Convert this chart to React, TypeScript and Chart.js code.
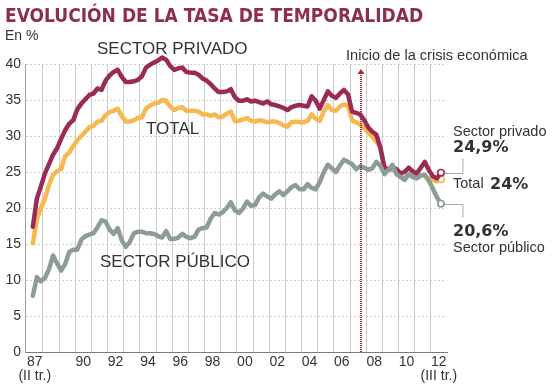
import React, { useEffect, useRef } from "react";
import { Chart, registerables } from "chart.js";

Chart.register(...registerables);

// ---- Data (quarterly, from 1987 Q2 to 2012 Q3) ----
const startYear = 1987;
const startQuarter = 2;

const privado = [
  17.4, 21.3, 23.0, 24.8, 26.1, 27.4, 28.3, 29.6, 30.8, 31.7,
  32.2, 33.7, 34.5, 35.1, 35.7, 35.9, 36.6, 36.4, 37.7, 38.4,
  38.9, 39.2, 38.2, 37.5, 37.5, 37.6, 37.8, 38.3, 39.5, 39.9,
  40.2, 40.5, 40.9, 40.6, 39.7, 39.2, 39.4, 39.5, 38.9, 38.8,
  38.8, 38.5, 38.0, 37.7, 37.2, 36.6, 36.1, 36.1, 36.2, 36.5,
  35.4, 34.9, 34.9, 35.1, 34.8, 34.9, 34.7, 34.5, 34.8, 34.4,
  34.3, 34.1, 33.9, 33.6, 34.0, 34.2, 34.3, 34.2, 34.1, 35.5,
  34.9, 33.8, 35.0, 36.2, 35.6, 35.3, 35.9, 36.4, 35.8, 33.4,
  33.2, 33.0, 32.2, 31.2, 30.6, 30.2, 28.4, 25.6, 25.3, 25.7,
  25.4, 24.8, 25.0, 25.6, 25.1, 24.8, 25.6, 26.4, 25.3, 24.4,
  24.1, 24.9,
];

const total = [
  15.1, 18.4, 20.0, 21.3, 23.2, 24.6, 25.1, 25.4, 27.2, 27.7,
  28.6, 29.4, 30.0, 30.6, 31.2, 31.4, 32.0, 32.1, 32.9, 33.3,
  33.5, 33.8, 32.8, 32.0, 32.0, 32.2, 32.5, 32.6, 33.8, 34.2,
  34.5, 34.6, 35.0, 34.9, 34.1, 33.6, 33.9, 34.0, 33.5, 33.5,
  33.5, 33.4, 33.0, 33.0, 32.8, 33.0, 32.6, 32.7, 33.1, 33.4,
  32.1, 32.1, 32.3, 32.5, 32.1, 32.0, 32.2, 32.1, 31.9, 32.0,
  32.0, 31.8, 31.5, 31.3, 31.9, 32.0, 31.9, 31.9, 32.1, 33.0,
  32.4, 32.1, 33.4, 34.3, 33.6, 33.5, 34.1, 34.4, 34.2, 32.2,
  31.9, 31.6, 31.1, 30.5, 29.9, 29.2, 28.4, 25.8, 25.3, 25.4,
  24.9, 24.4, 24.2, 24.6, 24.4, 24.4, 24.6, 24.5, 24.1, 23.9,
  23.7, 24.0,
];

const publico = [
  7.8, 10.4, 9.8, 10.3, 11.5, 13.4, 12.3, 11.3, 12.2, 13.9,
  14.2, 14.2, 15.6, 16.1, 16.3, 16.5, 17.3, 18.3, 18.1, 17.0,
  16.4, 17.2, 15.5, 14.6, 15.3, 16.5, 16.7, 16.7, 16.5, 16.5,
  16.4, 16.1, 15.9, 16.8, 15.7, 15.7, 15.9, 16.4, 16.0, 15.8,
  16.0, 17.0, 17.2, 17.3, 18.5, 19.3, 19.1, 19.4, 20.0, 20.8,
  19.7, 19.3, 19.9, 20.9, 20.3, 20.4, 21.5, 22.0, 21.6, 21.3,
  21.9, 22.3, 21.8, 22.3, 22.9, 23.2, 22.6, 22.6, 23.3, 22.8,
  22.6, 23.6, 25.0, 26.0, 25.5, 25.0, 25.9, 26.7, 26.4, 26.1,
  25.4, 25.8, 25.6, 25.3, 25.5, 26.4, 25.9, 24.7, 25.3, 26.0,
  24.7, 24.3, 23.9, 24.7, 24.3, 24.1, 24.5, 24.6, 23.8, 22.7,
  21.5, 20.6,
];

const yearTicks = [
  1987, 1988, 1989, 1990, 1991, 1992, 1993, 1994, 1995, 1996, 1997, 1998, 1999,
  2000, 2001, 2002, 2003, 2004, 2005, 2006, 2007, 2008, 2009, 2010, 2011, 2012,
];
const xLabels: Record<number, string | string[]> = {
  1987: ["87", "(II tr.)"],
  1990: "90",
  1992: "92",
  1994: "94",
  1996: "96",
  1998: "98",
  2000: "00",
  2002: "02",
  2004: "04",
  2006: "06",
  2008: "08",
  2010: "10",
  2012: ["12", "(III tr.)"],
};
const yMin = 0;
const yMax = 40;
const yStep = 5;
const crisisStart = 2007.7;

// quarter midpoints on a continuous year axis
const periods = privado.map(
  (_, i) => startYear + (startQuarter - 1 + i) / 4 + 0.125
);

const C_PRIV = "#9a2b57";
const C_TOT = "#f6b850";
const C_PUB = "#8c9c98";
const C_TEXT = "#333333";
const C_TITLE = "#8e2c52";
const C_CRISIS = "#a3262b";
const SANS = "'Liberation Sans', Arial, Helvetica, sans-serif";
const BOLD_NUM = "'DejaVu Sans', 'Liberation Sans', sans-serif";

function App() {
  const canvasRef = useRef<HTMLCanvasElement | null>(null);

  useEffect(() => {
    const canvas = canvasRef.current;
    if (!canvas) return;
    const last = privado.length - 1;

    const pts = (arr: number[]) => arr.map((v, i) => ({ x: periods[i], y: v }));
    const ds = (label: string, arr: number[], color: string) => ({
      label,
      data: pts(arr),
      borderColor: color,
      borderWidth: 4.5,
      borderJoinStyle: "round" as const,
      borderCapStyle: "round" as const,
      tension: 0,
      clip: false as const,
      pointRadius: (c: any) => (c.dataIndex === last ? 3.2 : 0),
      pointHoverRadius: 0,
      pointBackgroundColor: "#ffffff",
      pointBorderColor: color,
      pointBorderWidth: 1.6,
    });

    const annotPlugin = {
      id: "annot",
      beforeDatasetsDraw(chart: any) {
        const { ctx, scales } = chart;
        const x = scales.x;
        const y = scales.y;
        const lx = x.getPixelForValue(periods[last]);
        const py1 = y.getPixelForValue(privado[last]);
        const py2 = y.getPixelForValue(publico[last]);
        ctx.save();
        ctx.strokeStyle = "#a8a8a8";
        ctx.lineWidth = 1;
        ctx.beginPath();
        ctx.moveTo(lx, Math.round(py1) + 0.5);
        ctx.lineTo(lx + 22, Math.round(py1) + 0.5);
        ctx.lineTo(lx + 22, py1 - 14.5);
        ctx.moveTo(lx, Math.round(py2) + 0.5);
        ctx.lineTo(lx + 22, Math.round(py2) + 0.5);
        ctx.lineTo(lx + 22, py2 + 14);
        ctx.stroke();
        ctx.restore();
      },
      afterDatasetsDraw(chart: any) {
        const { ctx, scales } = chart;
        const x = scales.x;
        const y = scales.y;
        const px = Math.round(x.getPixelForValue(crisisStart));
        ctx.save();
        ctx.strokeStyle = C_CRISIS;
        ctx.lineWidth = 2;
        ctx.setLineDash([1, 1]);
        ctx.beginPath();
        ctx.moveTo(px, y.bottom);
        ctx.lineTo(px, y.top + 8);
        ctx.stroke();
        ctx.setLineDash([]);
        ctx.fillStyle = C_CRISIS;
        ctx.beginPath();
        ctx.moveTo(px - 3.5, y.top + 10);
        ctx.lineTo(px, y.top + 5);
        ctx.lineTo(px + 3.5, y.top + 10);
        ctx.closePath();
        ctx.fill();
        ctx.restore();
      },
    };

    const chart = new Chart(canvas, {
      type: "line",
      data: {
        datasets: [
          ds("Sector público", publico, C_PUB),
          ds("Sector privado", privado, C_PRIV),
          ds("Total", total, C_TOT),
        ],
      },
      options: {
        animation: false,
        responsive: false,
        events: [],
        layout: { padding: { top: 64, right: 113, left: 0, bottom: 0 } },
        plugins: {
          legend: { display: false },
          tooltip: { enabled: false },
          title: { display: false },
        },
        scales: {
          x: {
            type: "linear",
            min: 1986.89,
            max: 2013,
            afterBuildTicks: (axis: any) => {
              axis.ticks = yearTicks.map((v) => ({ value: v }));
            },
            afterFit: (scale: any) => {
              scale.height = 38;
            },
            grid: {
              color: (c: any) =>
                c.tick && c.tick.value === 1987 ? "rgba(0,0,0,0)" : "#cccccc",
              lineWidth: 1,
              drawTicks: false,
            },
            border: { display: true, color: "#7a7a7a", width: 1 },
            ticks: {
              autoSkip: false,
              maxRotation: 0,
              minRotation: 0,
              padding: 3,
              labelOffset: 8,
              color: C_TEXT,
              font: { family: SANS, size: 14, lineHeight: 1.0 },
              callback: (v: any) => xLabels[Math.round(Number(v))] ?? "",
            },
          },
          y: {
            min: yMin,
            max: yMax,
            afterFit: (scale: any) => {
              scale.width = 25;
            },
            grid: { color: "#cfcfcf", lineWidth: 1, drawTicks: false },
            border: { display: true, color: "#a0a0a0", width: 1, dash: [2, 2] },
            ticks: {
              stepSize: yStep,
              padding: 4,
              color: C_TEXT,
              font: { family: SANS, size: 14 },
            },
          },
        },
      },
      plugins: [annotPlugin],
    } as any);

    return () => chart.destroy();
  }, []);

  const txt = (
    left: number,
    top: number,
    size: number,
    content: React.ReactNode,
    extra: React.CSSProperties = {}
  ) => (
    <div
      style={{
        position: "absolute",
        left,
        top,
        fontSize: size,
        lineHeight: 1,
        whiteSpace: "nowrap",
        fontFamily: SANS,
        color: C_TEXT,
        ...extra,
      }}
    >
      {content}
    </div>
  );

  return (
    <div
      style={{
        position: "absolute",
        left: 0,
        top: 0,
        width: 560,
        height: 390,
        background: "#ffffff",
        overflow: "hidden",
      }}
    >
      <canvas
        ref={canvasRef}
        width={560}
        height={390}
        style={{ position: "absolute", left: 0, top: 0, width: 560, height: 390 }}
      />
      {txt(5, 5.5, 19, "EVOLUCIÓN DE LA TASA DE TEMPORALIDAD", {
        fontFamily: "'Liberation Sans Narrow', 'Arial Narrow', 'DejaVu Sans Condensed', sans-serif",
        fontWeight: 700,
        color: C_TITLE,
      })}
      {txt(5, 28, 14, "En %")}
      {txt(97, 39.8, 17, "SECTOR PRIVADO")}
      {txt(146, 119.5, 17, "TOTAL")}
      {txt(100, 252.8, 17, "SECTOR PÚBLICO")}
      {txt(346, 48, 14.6, "Inicio de la crisis económica")}
      {txt(453, 124, 14.5, "Sector privado")}
      {txt(453, 138.8, 16, "24,9%", { fontFamily: BOLD_NUM, fontWeight: 700 })}
      {txt(453, 176.4, 14.5, "Total")}
      {txt(490, 176.4, 16, "24%", { fontFamily: BOLD_NUM, fontWeight: 700 })}
      {txt(453, 223.1, 16, "20,6%", { fontFamily: BOLD_NUM, fontWeight: 700 })}
      {txt(453, 239.8, 14.5, "Sector público")}
    </div>
  );
}

export default App;
